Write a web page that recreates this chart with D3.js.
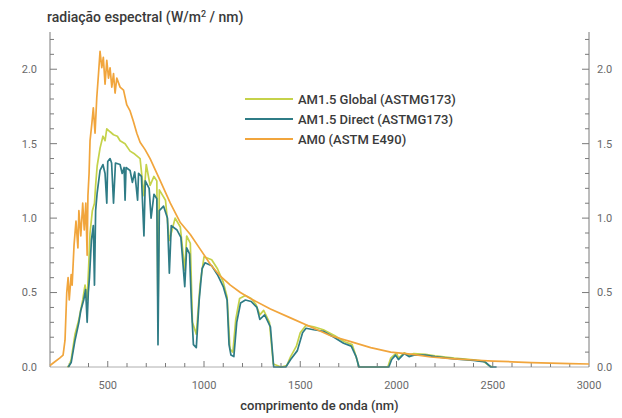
<!DOCTYPE html>
<html>
<head>
<meta charset="utf-8">
<script src="https://cdn.jsdelivr.net/npm/d3@7"></script>
<style>
  body { margin: 0; background: #fff; }
  text { font-family: Roboto, "DejaVu Sans", sans-serif; }
</style>
</head>
<body>
<script>
// spectral irradiance values (W/m2/nm)
var am0Wl  = [200, 220, 250, 268, 278, 287, 294, 300, 310, 315, 325, 335, 345, 350, 360, 370, 378, 386, 393, 397, 403, 408, 417, 425, 434, 443, 452, 460, 469, 477, 486, 495, 504, 512, 521, 530, 538, 547, 564, 582, 599, 616, 633, 651, 668, 694, 720, 773, 825, 877, 929, 981, 1033, 1085, 1137, 1189, 1241, 1345, 1449, 1553, 1658, 1762, 1866, 1970, 2074, 2178, 2300, 2400, 2500, 2600, 2700, 2800, 2900, 3000];
var am0Val = [0.01, 0.03, 0.06, 0.08, 0.18, 0.50, 0.60, 0.45, 0.62, 0.55, 0.82, 0.98, 0.80, 1.05, 0.88, 1.10, 0.92, 1.10, 0.75, 1.15, 1.30, 1.52, 1.63, 1.74, 1.57, 1.81, 1.97, 2.12, 2.01, 2.08, 1.90, 2.06, 1.94, 2.01, 1.88, 1.97, 1.84, 1.94, 1.88, 1.86, 1.76, 1.72, 1.65, 1.57, 1.51, 1.46, 1.40, 1.25, 1.10, 0.97, 0.89, 0.79, 0.69, 0.61, 0.55, 0.50, 0.46, 0.39, 0.33, 0.27, 0.21, 0.17, 0.13, 0.10, 0.087, 0.067, 0.055, 0.047, 0.04, 0.035, 0.03, 0.026, 0.022, 0.02];

var globalWl  = [290, 300, 310, 330, 350, 370, 382, 393, 399, 408, 420, 431, 437, 445, 460, 475, 486, 495, 512, 530, 550, 564, 590, 616, 640, 668, 688, 700, 720, 740, 755, 761, 768, 800, 820, 850, 877, 900, 910, 929, 940, 960, 980, 1000, 1040, 1070, 1100, 1120, 1135, 1150, 1165, 1185, 1215, 1245, 1270, 1290, 1310, 1340, 1360, 1400, 1430, 1450, 1480, 1500, 1530, 1570, 1620, 1680, 1730, 1770, 1790, 1805, 1955, 1970, 2000, 2010, 2040, 2065, 2090, 2150, 2200, 2300, 2400, 2450, 2480, 2500];
var globalVal = [0, 0.01, 0.05, 0.22, 0.32, 0.45, 0.55, 0.45, 0.62, 0.90, 1.05, 1.10, 1.22, 1.35, 1.47, 1.55, 1.52, 1.60, 1.58, 1.56, 1.55, 1.52, 1.50, 1.45, 1.43, 1.40, 1.15, 1.36, 1.22, 1.28, 1.25, 0.35, 1.19, 1.12, 0.85, 1.00, 0.94, 0.65, 0.88, 0.83, 0.30, 0.22, 0.56, 0.74, 0.72, 0.66, 0.57, 0.47, 0.12, 0.10, 0.32, 0.46, 0.48, 0.46, 0.42, 0.35, 0.38, 0.30, 0.02, 0, 0.01, 0.07, 0.14, 0.23, 0.28, 0.27, 0.25, 0.21, 0.17, 0.15, 0.07, 0, 0, 0.06, 0.095, 0.06, 0.095, 0.08, 0.09, 0.085, 0.075, 0.06, 0.048, 0.04, 0.01, 0];

var directWl  = [295, 310, 330, 350, 360, 375, 385, 393, 399, 405, 415, 425, 431, 437, 445, 460, 475, 486, 495, 500, 512, 520, 530, 540, 564, 575, 585, 590, 595, 616, 628, 640, 655, 660, 675, 688, 695, 715, 725, 740, 755, 761, 768, 790, 810, 820, 830, 860, 880, 900, 910, 925, 935, 945, 960, 975, 990, 1005, 1040, 1070, 1100, 1120, 1130, 1140, 1155, 1170, 1190, 1215, 1245, 1275, 1290, 1315, 1345, 1362, 1425, 1450, 1485, 1512, 1530, 1570, 1620, 1675, 1725, 1765, 1790, 1805, 1960, 1975, 1995, 2010, 2040, 2065, 2090, 2150, 2200, 2300, 2400, 2460, 2490, 2520];
var directVal = [0, 0.03, 0.18, 0.30, 0.38, 0.45, 0.52, 0.30, 0.50, 0.60, 0.85, 0.95, 0.55, 1.05, 1.17, 1.32, 1.36, 1.30, 1.10, 1.38, 1.40, 1.37, 1.10, 1.37, 1.36, 1.30, 1.34, 1.12, 1.34, 1.32, 1.24, 1.31, 1.12, 1.30, 1.28, 0.88, 1.25, 1.20, 1.00, 1.16, 1.13, 0.15, 1.05, 1.08, 1.00, 0.63, 0.95, 0.92, 0.87, 0.54, 0.80, 0.76, 0.40, 0.15, 0.13, 0.45, 0.66, 0.70, 0.68, 0.62, 0.54, 0.45, 0.15, 0.08, 0.07, 0.30, 0.43, 0.45, 0.44, 0.40, 0.32, 0.35, 0.27, 0, 0, 0.05, 0.11, 0.23, 0.26, 0.25, 0.24, 0.20, 0.16, 0.14, 0.07, 0, 0, 0.05, 0.08, 0.05, 0.09, 0.07, 0.08, 0.08, 0.07, 0.055, 0.045, 0.035, 0, 0];

var seriesNames = ["AM1.5 Global (ASTMG173)", "AM1.5 Direct (ASTMG173)", "AM0 (ASTM E490)"];
var seriesColors = ["#c5d24a", "#2f7c86", "#f1a53c"];
var xTicks = [500, 1000, 1500, 2000, 2500, 3000];
var yTicks = [0, 0.5, 1.0, 1.5, 2.0];

var W = 622, H = 418;
var margin = {top: 32, right: 33, bottom: 51, left: 50},
    width = W - margin.left - margin.right,
    height = H - margin.top - margin.bottom;

var svg = d3.select("body").append("svg")
    .attr("width", W)
    .attr("height", H);

var g = svg.append("g")
    .attr("transform", "translate(" + margin.left + "," + margin.top + ")");

var x = d3.scaleLinear().domain([200, 3000]).range([0, width]);
var y = d3.scaleLinear().domain([0, 2.25]).range([height, 0]);

var axisColor = "#7a7a7a", labelColor = "#6a6a6a";

// minor ticks
var xMinor = d3.range(300, 3000, 100);
var yMinor = d3.range(0.1, 2.25, 0.1);

g.append("g").selectAll("line")
    .data(xMinor)
  .enter().append("line")
    .attr("x1", function(d) { return x(d); })
    .attr("x2", function(d) { return x(d); })
    .attr("y1", height)
    .attr("y2", function(d) { return height - (d % 500 === 0 ? 6 : 4); })
    .attr("stroke", axisColor);

[0, width].forEach(function(px, i) {
  g.append("g").selectAll("line")
      .data(yMinor)
    .enter().append("line")
      .attr("y1", function(d) { return y(d); })
      .attr("y2", function(d) { return y(d); })
      .attr("x1", px)
      .attr("x2", function(d) {
        var len = Math.abs(d * 2 - Math.round(d * 2)) < 1e-6 ? 7 : 4;
        return i === 0 ? px + len : px - len; })
      .attr("stroke", axisColor);
});

// axis lines
g.append("line").attr("x1", 0).attr("x2", 0).attr("y1", 0).attr("y2", height).attr("stroke", axisColor);
g.append("line").attr("x1", width).attr("x2", width).attr("y1", 0).attr("y2", height).attr("stroke", axisColor);

// tick labels
var fmt = d3.format(".1f");
g.append("g").selectAll("text")
    .data(yTicks)
  .enter().append("text")
    .attr("x", -13)
    .attr("y", function(d) { return y(d); })
    .attr("dy", "0.35em")
    .attr("text-anchor", "end")
    .attr("font-size", 11)
    .attr("fill", labelColor)
    .text(fmt);

g.append("g").selectAll("text")
    .data(yTicks)
  .enter().append("text")
    .attr("x", width + 8)
    .attr("y", function(d) { return y(d); })
    .attr("dy", "0.35em")
    .attr("font-size", 11)
    .attr("fill", labelColor)
    .text(fmt);

g.append("g").selectAll("text")
    .data(xTicks)
  .enter().append("text")
    .attr("x", function(d) { return x(d); })
    .attr("y", height + 22)
    .attr("text-anchor", "middle")
    .attr("font-size", 11)
    .attr("fill", labelColor)
    .text(function(d) { return d; });

// curves
var line = d3.line()
    .x(function(d) { return x(d[0]); })
    .y(function(d) { return y(d[1]); });

var series = [
  d3.zip(globalWl, globalVal),
  d3.zip(directWl, directVal),
  d3.zip(am0Wl, am0Val)
];

g.append("g").selectAll("path")
    .data(series)
  .enter().append("path")
    .attr("d", line)
    .attr("fill", "none")
    .attr("stroke", function(d, i) { return seriesColors[i]; })
    .attr("stroke-width", 1.7)
    .attr("stroke-linejoin", "round");

// bottom axis line drawn over the curves' zero parts
g.append("line").attr("x1", 0).attr("x2", width).attr("y1", height).attr("y2", height)
    .attr("stroke", axisColor).attr("stroke-opacity", 0.6);

// legend
var legend = svg.append("g").selectAll("g")
    .data(seriesNames)
  .enter().append("g")
    .attr("transform", function(d, i) { return "translate(245," + (99 + i * 20) + ")"; });

legend.append("line")
    .attr("x1", 0).attr("x2", 48)
    .attr("stroke", function(d, i) { return seriesColors[i]; })
    .attr("stroke-width", 2);

legend.append("text")
    .attr("x", 53)
    .attr("dy", "0.35em")
    .attr("font-size", 13)
    .attr("font-weight", 500)
    .attr("fill", "#3a3a3a")
    .text(function(d) { return d; });

// titles
var title = svg.append("text")
    .attr("x", 47)
    .attr("y", 22)
    .attr("font-size", 14)
    .attr("font-weight", 500)
    .attr("fill", "#3a3a3a");
title.append("tspan").text("radiação espectral (W/m");
title.append("tspan").attr("dy", -5).attr("font-size", 9).text("2");
title.append("tspan").attr("dy", 5).text(" / nm)");

svg.append("text")
    .attr("x", margin.left + width / 2)
    .attr("y", 410)
    .attr("text-anchor", "middle")
    .attr("font-size", 13)
    .attr("font-weight", 500)
    .attr("fill", "#3a3a3a")
    .text("comprimento de onda (nm)");
</script>
</body>
</html>
